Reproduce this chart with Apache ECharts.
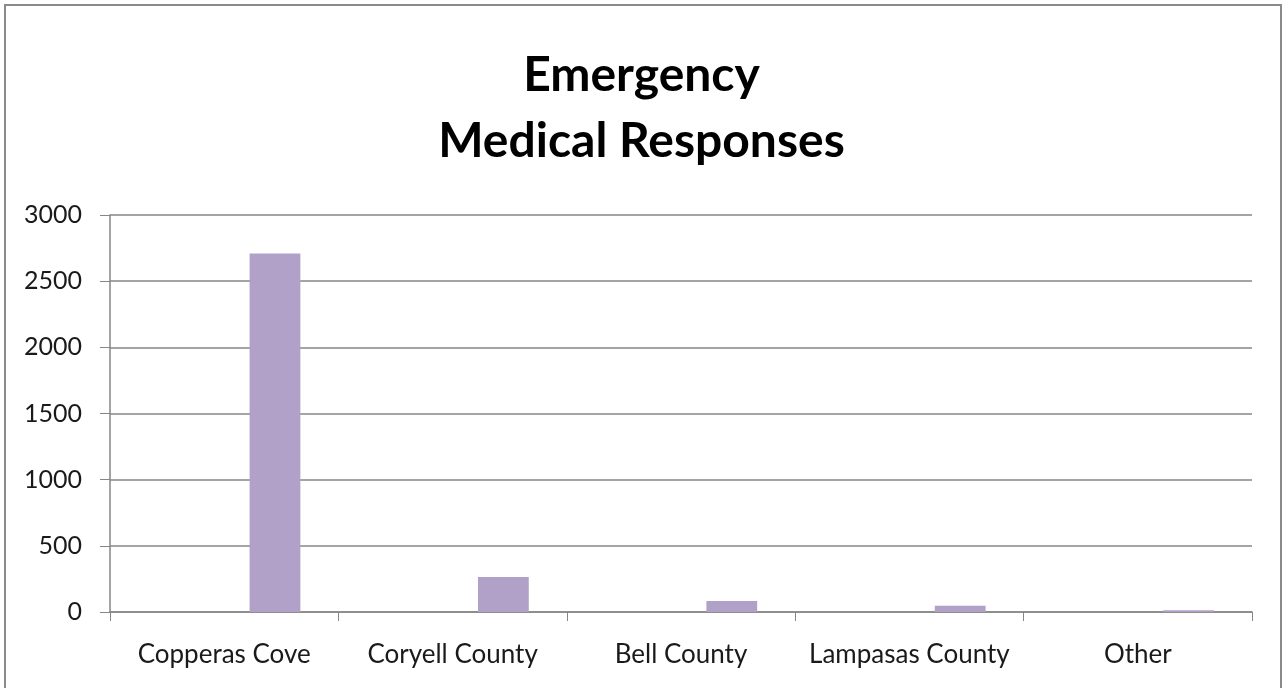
<!DOCTYPE html>
<html>
<head>
<meta charset="utf-8">
<script src="https://cdn.jsdelivr.net/npm/echarts@6/dist/echarts.min.js"></script>
<style>
html,body{margin:0;padding:0;background:#fff;}
#c{width:1283px;height:688px;}
</style>
</head>
<body>
<div id="c"></div>
<script>
const titleText = 'Emergency\nMedical Responses';
const categories = ['Copperas Cove', 'Coryell County', 'Bell County', 'Lampasas County', 'Other'];
const responses = [2710, 265, 83, 48, 13];
const yTicks = { min: 0, max: 3000, interval: 500 };

const chart = echarts.init(document.getElementById('c'));
const FONT = 'Lato';
chart.setOption({
  animation: false,
  backgroundColor: '#fff',
  graphic: [{
    type: 'rect',
    shape: { x: 5, y: 5, width: 1276, height: 720 },
    style: { fill: 'none', stroke: '#8a8a8a', lineWidth: 2 },
    silent: true
  }],
  title: {
    text: titleText,
    left: 'center',
    top: 38,
    textStyle: { fontFamily: FONT, fontWeight: 'bold', fontSize: 48, color: '#000', lineHeight: 66 }
  },
  grid: { left: 110, right: 31, top: 215, bottom: 76, containLabel: false },
  xAxis: {
    type: 'category',
    data: categories,
    axisLine: { lineStyle: { color: '#868686', width: 1.5 } },
    axisTick: { show: true, interval: 0, length: 9, lineStyle: { color: '#868686' } },
    axisLabel: { interval: 0, fontFamily: FONT, fontSize: 26, color: '#1a1a1a', margin: 30 }
  },
  yAxis: {
    type: 'value',
    min: yTicks.min, max: yTicks.max, interval: yTicks.interval,
    axisLine: { show: true, lineStyle: { color: '#868686', width: 1.5 } },
    axisTick: { show: true, length: 10, inside: false, lineStyle: { color: '#868686' } },
    axisLabel: { fontFamily: FONT, fontSize: 25, color: '#1a1a1a', margin: 28,
      formatter: function (v) { return String(v); } },
    splitLine: { show: true, lineStyle: { color: '#868686', width: 1.5 } }
  },
  series: [
    { type: 'bar', name: 's1', data: [], barGap: '0%', barCategoryGap: '33.3%' },
    { type: 'bar', name: 's2', data: [], barGap: '0%', barCategoryGap: '33.3%' },
    { type: 'bar', name: 'Responses', data: responses, barGap: '0%', barCategoryGap: '33.3%',
      itemStyle: { color: '#B1A0C7' } }
  ]
});
</script>
</body>
</html>
